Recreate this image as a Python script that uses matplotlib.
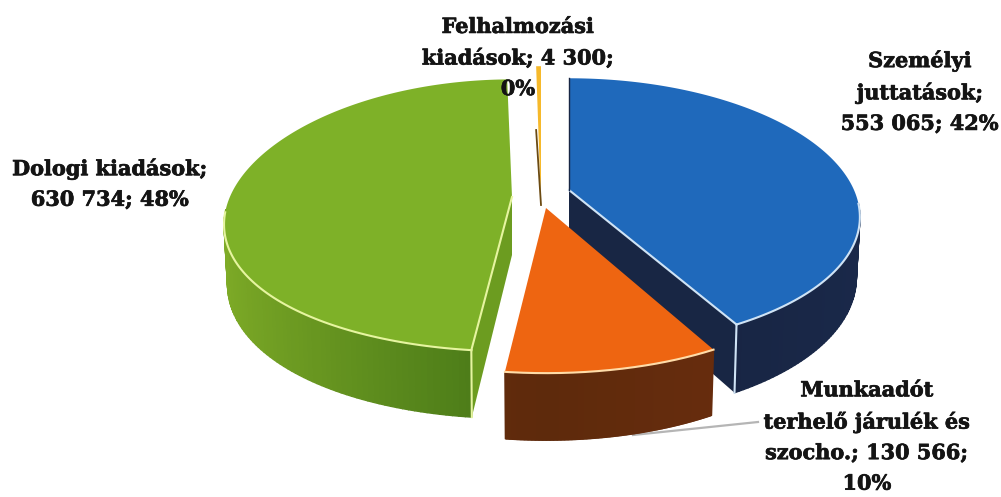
import numpy as np
import matplotlib
matplotlib.use("Agg")
import matplotlib.pyplot as plt
import matplotlib.patheffects as pe
from matplotlib.collections import PolyCollection
from matplotlib.colors import LinearSegmentedColormap
from matplotlib.patches import Polygon

categories = ["Személyi juttatások", "Munkaadót terhelő járulék és szocho.", "Dologi kiadások", "Felhalmozási kiadások"]
values = [553065, 130566, 630734, 4300]
labels = [
    "Személyi\njuttatások;\n553 065; 42%",
    "Munkaadót\nterhelő járulék és\nszocho.; 130 566;\n10%",
    "Dologi kiadások;\n630 734; 48%",
    "Felhalmozási\nkiadások; 4 300;\n0%",
]

# styles, same order as categories
top_colors = ["#1f69bb", "#ee6511", "#7eb128", "#f6b92b"]
wall_colors = [("#1a294a", "#16223f"), ("#702f0e", "#5e2a0c"), ("#7fac27", "#477717"), ("#c08a20", "#8a6010")]
cut_colors = ["#182644", "#6e3010", "#6c9c20", "#6b4a12"]
rim_colors = ["#cfe3f5", "#ffdca8", "#e6f5a0", "#f6b92b"]
apex = [(569, 190), (546, 208), (512, 197), (541, 205)]
scale_x = [1.0, 1.0, 0.99, 1.0]
scale_y = [0.98, 1.07, 1.0, 1.18]
persp_y = [0.171, 0.135, 0.135, 0.135]
cut_side = [-1, None, 0, -1]  # which straight side of the slice faces the viewer
label_pos = [(920, 92), (867, 437), (110, 184), (518, 58)]

RX, RY, KX, DEPTH = 285, 133.5, 0.2, 58


def project(i, theta, down=0.0):
    # theta clockwise from the back of the pie, simple perspective
    a = apex[i]
    x = np.sin(theta)
    y = -np.cos(theta)
    w = 1 - persp_y[i] * y
    px = RX * scale_x[i] * x / (1 - KX * y) * (1 - 0.012 * down)
    py = RY * scale_y[i] * y / w + DEPTH * down / w
    return a[0] + px, a[1] + py


fig = plt.figure(figsize=(10.01, 4.97), dpi=100)
ax = fig.add_axes([0, 0, 1, 1])
ax.set_xlim(0, 1001)
ax.set_ylim(497, 0)
ax.axis("off")

shares = np.array(values) / sum(values)
edges = np.concatenate([[0], np.cumsum(shares)]) * 2 * np.pi

# leader line first, the orange wall sits on top of it
ax.plot([633, 758], [435, 422], color="#b5b5b5", lw=1.6, zorder=1)

draw_order = [3, 0, 2, 1]
for n, i in enumerate(draw_order):
    z = 2 + n * 5
    a = apex[i]
    th = np.linspace(edges[i], edges[i + 1], 160)

    # cut face running from the apex to the end of the slice
    if cut_side[i] is not None:
        t = th[cut_side[i]]
        tx, ty = project(i, t)
        bx, by = project(i, t, 1)
        ax.add_patch(Polygon([a, (tx, ty), (bx, by), (a[0], a[1] + DEPTH)], fc=cut_colors[i], ec="none", zorder=z))

    # outer wall, only the part facing the viewer
    cmap = LinearSegmentedColormap.from_list("w", wall_colors[i])
    quads, shade = [], []
    for t0, t1 in zip(th[:-1], th[1:]):
        if np.cos((t0 + t1) / 2) > -0.1:
            continue
        quads.append([project(i, t0), project(i, t1), project(i, t1, 1), project(i, t0, 1)])
        shade.append(abs(np.sin((t0 + t1) / 2)))
    if quads:
        cols = cmap(1 - np.array(shade))
        ax.add_collection(PolyCollection(quads, facecolors=cols, edgecolors=cols, linewidths=1.0, zorder=z + 1))

    # top
    xs, ys = project(i, th)
    ax.add_patch(Polygon(np.column_stack([np.r_[a[0], xs], np.r_[a[1], ys]]), fc=top_colors[i], ec="none", zorder=z + 2))

    # light edges on the top face
    front = np.cos(th) < -0.1
    if front.any():
        ax.plot(xs[front], ys[front], color=rim_colors[i], lw=1.5, zorder=z + 3)
    if i in (0, 2):
        ax.plot([a[0], tx], [a[1], ty], color=rim_colors[i], lw=1.5, zorder=z + 3)
        ax.plot([tx, bx], [ty, by], color=rim_colors[i], lw=1.5, zorder=z + 3)
    if i == 0:
        # thin dark side along the back edge of the blue slice
        ax.plot([a[0], xs[0]], [a[1], ys[0]], color=cut_colors[i], lw=1.0, zorder=z + 3)
    if i == 3:
        # the sliver goes dark towards the apex
        ax.plot([a[0], xs[0]], [a[1], a[1] - 75], color=cut_colors[i], lw=1.3, zorder=z + 3)

for lab, (x, y) in zip(labels, label_pos):
    ax.text(x, y, lab, ha="center", va="center", fontsize=15, fontweight="bold",
            family="DejaVu Serif", color="#141414", linespacing=1.66, zorder=50,
            path_effects=[pe.withStroke(linewidth=0.5, foreground="#141414")])

fig.savefig("out.png", dpi=100)
